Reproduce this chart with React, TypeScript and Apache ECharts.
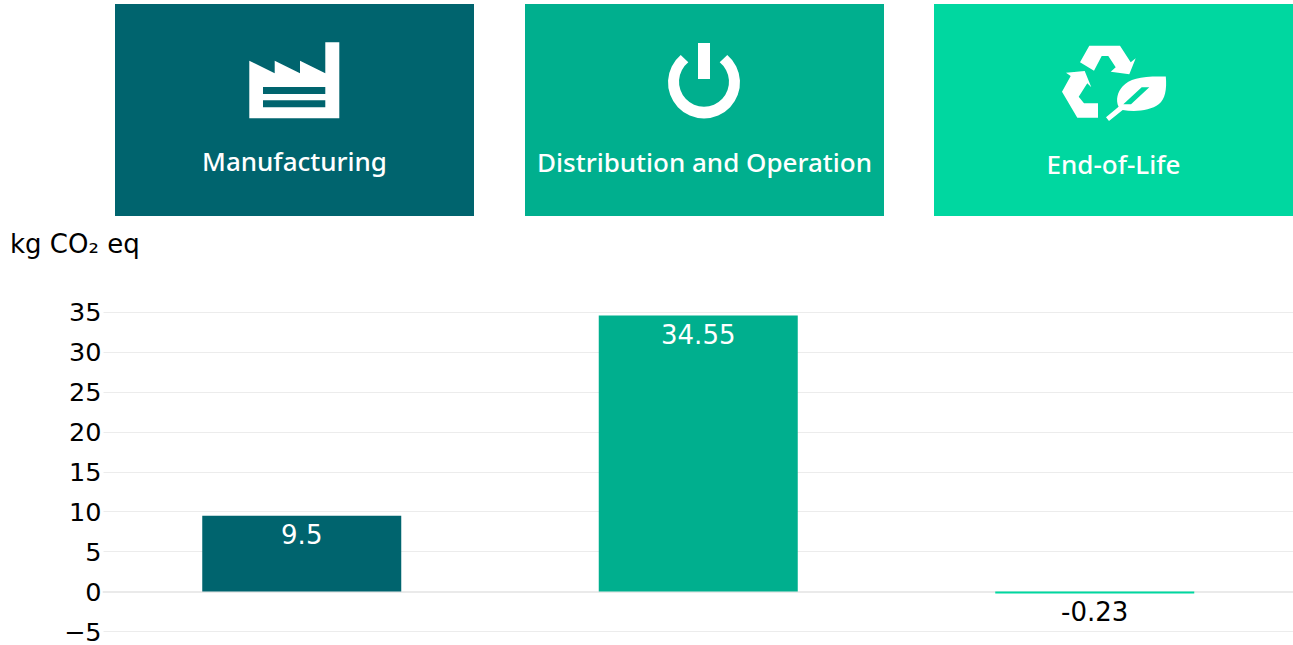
import React, { useEffect, useRef } from "react";
import * as echarts from "echarts";

const categories = ["Manufacturing", "Distribution and Operation", "End-of-Life"];
const values = [9.5, 34.55, -0.23];
const colors = ["#00646E", "#00AF8E", "#00D7A0"];
const unit = "kg CO₂ eq";

const factory =
  "M249.3 118.3V60.7L274.7 73.3V60.7L300 73.3V60.7L325.3 73.3V42.3H339.3V118.3Z" +
  "M263 87V94H325.3V87Z M263 100.3V107.3H325.3V100.3Z";
const power =
  "M680.7 55A36 36 0 1 0 727.3 55L719.7 62.3A25 25 0 1 1 688.3 62.3Z M698 43H710V79H698Z";
const recycle =
  "M1080 62.3L1089.3 45.7H1120L1130.7 62.3L1135.7 58.3L1129.3 74.3L1110.7 71.7L1115.7 67.3L1108.3 56H1101.7L1094 70.7Z" +
  "M1066 72.7L1084.7 71L1091.3 87.3L1087.3 83.3L1078.7 96.7L1084 103.3H1098V117.7H1077.3L1062 91.7L1070.7 76Z";
const leaf =
  "M1165.8 76.5C1167 90 1165 99 1159 104C1150 111 1135 112 1122.7 110L1109 121L1106 117.3L1118.6 106.7C1115.5 100 1117.5 92 1122.5 86.5C1130 78 1142 76 1165.8 76.5Z" +
  "M1123.3 104.3L1131 104.3L1149.3 87.3L1141.7 87.3Z";

echarts.graphic.registerShape("factoryIcon", echarts.graphic.extendPath(factory, {}));
echarts.graphic.registerShape("powerIcon", echarts.graphic.extendPath(power, {}));
echarts.graphic.registerShape("recycleIcon", echarts.graphic.extendPath(recycle, {}));
echarts.graphic.registerShape("leafIcon", echarts.graphic.extendPath(leaf, {}));

const labelFont = "'DejaVu Sans', sans-serif";
const tileFont = "'Noto Sans', sans-serif";

export default function App() {
  const ref = useRef<HTMLDivElement>(null);
  useEffect(() => {
    const chart = echarts.init(ref.current!, null, { renderer: "svg" });
    const tiles = [
      { x: 115, labelY: 160.5 },
      { x: 525, labelY: 161.5 },
      { x: 934, labelY: 163.5 },
    ];
    const tileGraphics: any[] = [];
    tiles.forEach((t, i) => {
      tileGraphics.push({
        type: "rect",
        shape: { x: t.x, y: 4, width: 359, height: 212 },
        style: { fill: colors[i] },
      });
      tileGraphics.push({
        type: "text",
        x: t.x + 179.5,
        y: t.labelY,
        style: {
          text: categories[i],
          fill: "#ffffff",
          font: `500 26px ${tileFont}`,
          align: "center",
          verticalAlign: "middle",
        },
      });
    });
    ["factoryIcon", "powerIcon", "recycleIcon", "leafIcon"].forEach((type) => {
      tileGraphics.push({ type, x: 0, y: 0, style: { fill: "#ffffff" } });
    });
    tileGraphics.push({
      type: "text",
      x: 10,
      y: 244,
      style: {
        text: unit,
        fill: "#000000",
        font: `26px ${labelFont}`,
        align: "left",
        verticalAlign: "middle",
      },
    });

    chart.setOption({
      animation: false,
      backgroundColor: "#ffffff",
      grid: { left: 103.5, right: 0, top: 312, bottom: 13.5, containLabel: false },
      xAxis: {
        type: "category",
        data: categories,
        axisLine: { onZero: true, lineStyle: { color: "#eaeaea", width: 2 } },
        axisTick: { show: false },
        axisLabel: { show: false },
      },
      yAxis: {
        type: "value",
        min: -5,
        max: 35,
        interval: 5,
        axisLine: { show: false },
        axisTick: { show: false },
        axisLabel: {
          color: "#000000",
          fontFamily: labelFont,
          fontSize: 25.5,
          margin: 2,
          formatter: (v: number) => (v < 0 ? `−${Math.abs(v)}` : `${v}`),
        },
        splitLine: { lineStyle: { color: "#ececec", width: 1 } },
      },
      series: [
        {
          type: "bar",
          barWidth: 199,
          data: values.map((value, i) => ({
            value,
            itemStyle: { color: colors[i] },
            label: {
              show: true,
              position: value < 0 ? "bottom" : "insideTop",
              distance: 6,
              color: value < 0 ? "#000000" : "#ffffff",
              fontFamily: labelFont,
              fontSize: 26,
              formatter: () => `${value}`,
            },
          })),
        },
      ],
      graphic: { elements: tileGraphics },
    });
    return () => chart.dispose();
  }, []);
  return (
    <div
      ref={ref}
      style={{ position: "fixed", left: 0, top: 0, width: 1293, height: 645 }}
    />
  );
}
